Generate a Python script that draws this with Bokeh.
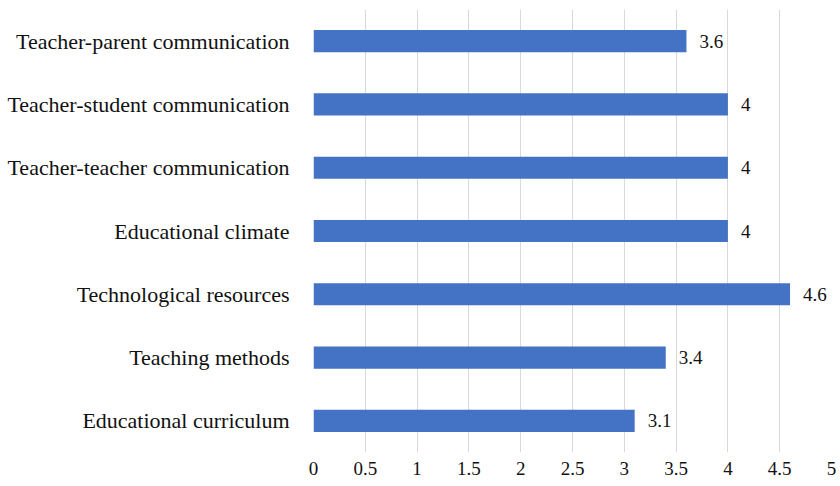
from bokeh.plotting import figure
from bokeh.models import ColumnDataSource, FactorRange, Range1d, FixedTicker, LabelSet
from bokeh.embed import file_html
from bokeh.resources import INLINE

categories = ["Educational curriculum", "Teaching methods", "Technological resources",
              "Educational climate", "Teacher-teacher communication",
              "Teacher-student communication", "Teacher-parent communication"]
values = [3.1, 3.4, 4.6, 4.0, 4.0, 4.0, 3.6]
value_labels = ["3.1", "3.4", "4.6", "4", "4", "4", "3.6"]
x_ticks = [0, 0.5, 1, 1.5, 2, 2.5, 3, 3.5, 4, 4.5, 5]

FONT = "Liberation Serif"

src = ColumnDataSource(dict(cat=categories, val=values, lab=value_labels))

p = figure(width=840, height=486, output_backend="svg", toolbar_location=None,
           y_range=FactorRange(*categories, range_padding=0),
           x_range=Range1d(0, 5))
p.min_border_left = 313
p.min_border_right = 9
p.min_border_top = 9
p.min_border_bottom = 34
p.outline_line_color = None
p.background_fill_color = "white"
p.border_fill_color = "white"

p.hbar(y="cat", right="val", left=0, height=0.35, source=src,
       fill_color="#4472C4", line_color=None)

labels = LabelSet(x="val", y="cat", text="lab", source=src, x_offset=13,
                  text_baseline="middle", text_align="left",
                  text_font=FONT, text_font_size="19px", text_color="#111111")
p.add_layout(labels)

p.xaxis.ticker = FixedTicker(ticks=x_ticks)
p.xaxis.major_label_overrides = {0: "0", 1: "1", 2: "2", 3: "3", 4: "4", 5: "5"}
p.xaxis.axis_line_color = None
p.xaxis.major_tick_line_color = None
p.xaxis.minor_tick_line_color = None
p.xaxis.major_label_text_font = FONT
p.xaxis.major_label_text_font_size = "19px"
p.xaxis.major_label_text_color = "#111111"
p.xaxis.major_label_standoff = 3

p.yaxis.axis_line_color = None
p.yaxis.major_tick_line_color = None
p.yaxis.major_label_text_font = FONT
p.yaxis.major_label_text_font_size = "22px"
p.yaxis.major_label_text_color = "#111111"
p.yaxis.major_label_standoff = 18

p.xgrid.grid_line_color = "#d9d9d9"
p.xgrid.grid_line_width = 1
p.ygrid.grid_line_color = None

open("out.html", "w").write(file_html(p, INLINE))
